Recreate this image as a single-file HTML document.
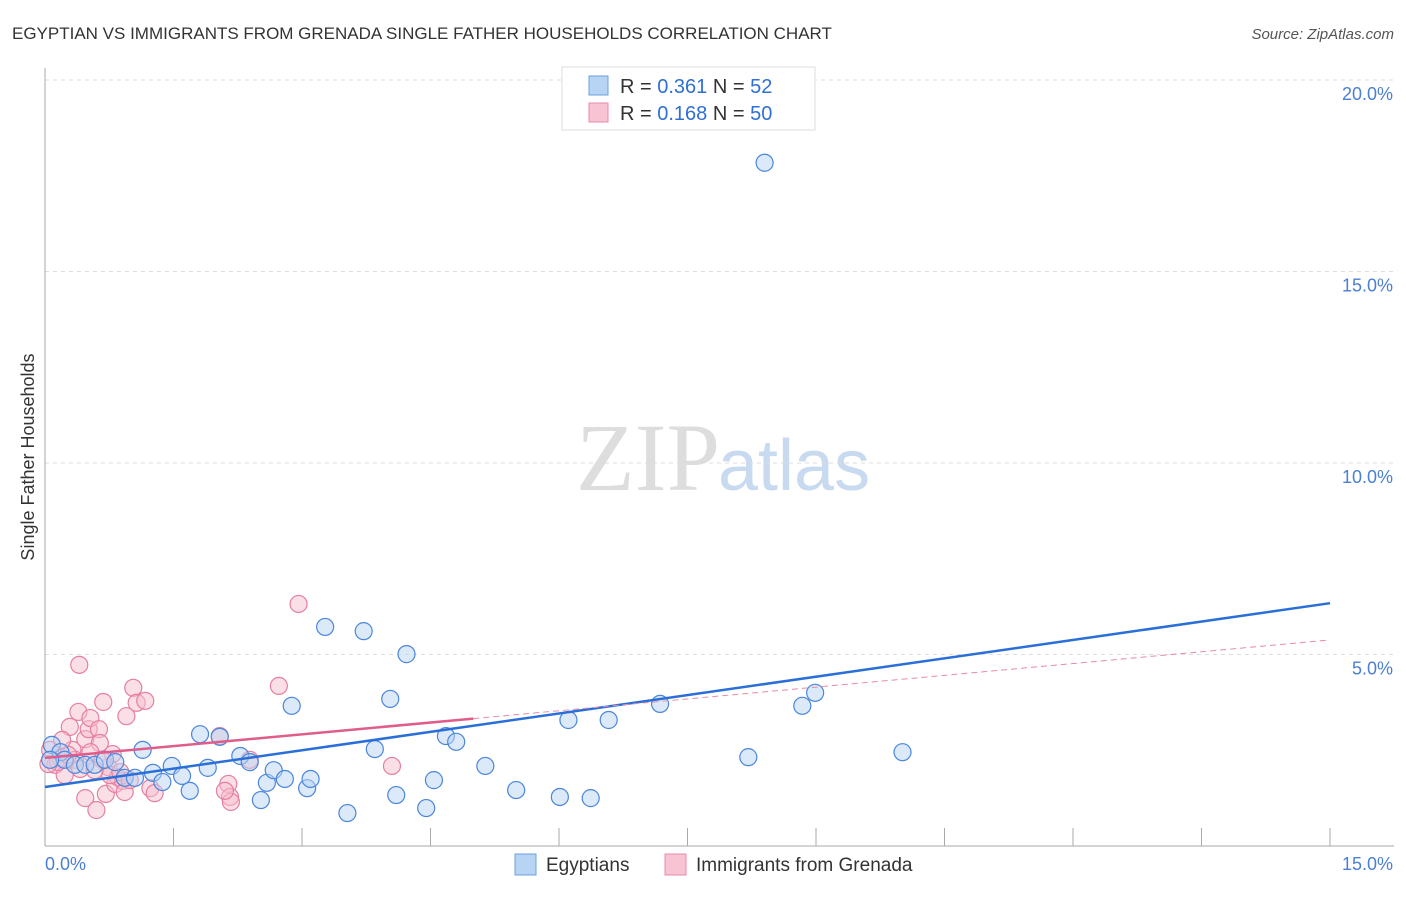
<!DOCTYPE html>
<html><head><meta charset="utf-8"><style>
body{margin:0;background:#fff;font-family:"Liberation Sans",sans-serif;}
</style></head><body>
<svg width="1406" height="892" xmlns="http://www.w3.org/2000/svg" font-family="Liberation Sans, sans-serif">
<text x="12" y="39" font-size="17" fill="#333">EGYPTIAN VS IMMIGRANTS FROM GRENADA SINGLE FATHER HOUSEHOLDS CORRELATION CHART</text>
<text x="1394" y="39" font-size="15" fill="#555" text-anchor="end" font-style="italic">Source: ZipAtlas.com</text>
<text x="720" y="490" font-size="96" fill="#ddd" text-anchor="end" font-family="Liberation Serif, serif">ZIP</text>
<text x="718" y="490" font-size="72" fill="#c8daf0">atlas</text>
<g id="grid"></g><g id="axes"></g><g id="marks"></g>
<text transform="translate(34,457) rotate(-90)" font-size="18" fill="#333" text-anchor="middle">Single Father Households</text>
<g>
<rect x="562" y="67" width="253" height="63" fill="#fff" stroke="#ddd"/>
<rect x="589" y="76" width="19" height="19" fill="#b8d4f4" stroke="#6a9fe0"/>
<rect x="589" y="103" width="19" height="19" fill="#f8c4d4" stroke="#e88aa8"/>
<text x="620" y="93" font-size="20" fill="#333">R = <tspan fill="#2f6fd6">0.361</tspan>   N = <tspan fill="#2f6fd6">52</tspan></text>
<text x="620" y="120" font-size="20" fill="#333">R = <tspan fill="#2f6fd6">0.168</tspan>   N = <tspan fill="#2f6fd6">50</tspan></text>
</g>
<g>
<rect x="515" y="854" width="21" height="21" fill="#b8d4f4" stroke="#6a9fe0"/>
<text x="546" y="871" font-size="19" fill="#333">Egyptians</text>
<rect x="665" y="854" width="21" height="21" fill="#f8c4d4" stroke="#e88aa8"/>
<text x="696" y="871" font-size="19" fill="#333">Immigrants from Grenada</text>
</g>
</svg>
<script>
const yTicks=[5,10,15,20];
const yTickLabels=["5.0%","10.0%","15.0%","20.0%"];
const xTickVals=[0,1.5,3,4.5,6,7.5,9,10.5,12,13.5,15];
const blueX=[0.08,0.18,0.23,0.35,0.47,0.58,0.70,0.82,0.93,1.05,1.14,1.26,1.37,1.48,1.60,1.69,1.81,1.90,2.04,2.28,2.39,2.52,2.59,2.67,2.80,2.88,3.06,3.10,3.27,3.53,3.72,3.85,4.03,4.10,4.22,4.45,4.54,4.68,4.80,5.14,5.50,6.01,6.11,6.37,6.58,7.18,8.21,8.40,8.84,8.99,10.01,0.06];
const blueY=[2.64,2.45,2.25,2.12,2.12,2.12,2.25,2.19,1.78,1.78,2.51,1.91,1.67,2.09,1.83,1.44,2.92,2.04,2.85,2.35,2.19,1.20,1.65,1.98,1.75,3.66,1.51,1.75,5.72,0.86,5.61,2.53,3.84,1.33,5.01,0.99,1.72,2.87,2.72,2.09,1.46,1.28,3.29,1.25,3.29,3.71,2.32,17.84,3.66,4.00,2.45,2.25];
const pinkX=[0.06,0.12,0.18,0.23,0.29,0.32,0.35,0.39,0.41,0.47,0.47,0.51,0.53,0.60,0.63,0.64,0.68,0.71,0.74,0.79,0.82,0.85,0.91,0.93,0.95,1.03,1.07,1.17,1.23,1.28,2.04,2.14,2.16,2.17,2.39,2.73,2.96,4.05,0.40,0.15,0.27,0.53,0.67,0.76,0.88,0.20,0.04,0.58,0.99,2.10];
const pinkY=[2.51,2.12,2.30,1.85,3.11,2.51,2.25,3.50,2.01,1.25,2.79,3.05,3.34,0.94,3.05,2.69,3.76,1.36,2.06,2.40,1.62,1.80,1.70,1.41,3.39,4.13,3.74,3.79,1.51,1.38,2.87,1.62,1.28,1.15,2.25,4.18,6.32,2.09,4.73,2.19,2.38,2.45,2.25,1.85,1.93,2.77,2.14,1.98,1.72,1.44];
const blueTrend=[1.54,6.34];
const pinkTrend=[2.30,5.38];
const NS='http://www.w3.org/2000/svg';
const X0=45,X1=1330,Y0=846,PY=38.3;
const sx=v=>X0+(v/15)*(X1-X0), sy=v=>Y0-v*PY;
function mk(t,a,p){const e=document.createElementNS(NS,t);for(const k in a)e.setAttribute(k,a[k]);p.appendChild(e);return e;}
const grid=document.getElementById('grid'),axes=document.getElementById('axes'),marks=document.getElementById('marks');
yTicks.forEach((v,i)=>{
 const l=mk('line',{x1:X0,x2:1394,y1:sy(v),y2:sy(v),stroke:'#ddd','stroke-dasharray':'4,4'},grid);
 
 
 const t=mk('text',{x:1393,y:sy(v)+20,'font-size':18,fill:'#4a7fd4','text-anchor':'end'},axes);
 t.textContent=yTickLabels[i];
 
 
});
const ax=mk('line',{x1:X0,x2:X0,y1:68,y2:Y0,stroke:'#aaa'},axes);


const bx=mk('line',{x1:X0,x2:1394,y1:Y0,y2:Y0,stroke:'#aaa'},axes);


xTickVals.forEach(v=>{const t=mk('line',{x1:sx(v),x2:sx(v),y1:Y0-18,y2:Y0,stroke:'#aaa'},axes);
 
 });
const xl=mk('text',{x:45,y:870,'font-size':18,fill:'#4a7fd4'},axes);xl.textContent='0.0%';


const xr=mk('text',{x:1393,y:870,'font-size':18,fill:'#4a7fd4','text-anchor':'end'},axes);xr.textContent='15.0%';


function pts(xs,ys,fill,stroke,name){xs.forEach((x,i)=>{const c=mk('circle',{cx:sx(x),cy:sy(ys[i]),r:8.5,fill:fill,'fill-opacity':0.5,stroke:stroke,'stroke-width':1.2},marks);
 
 });}
pts(pinkX,pinkY,'#f8bfd0','#e67fa0','grenada-point');
pts(blueX,blueY,'#b8d4f4','#4a86dc','egyptian-point');
const bt=mk('line',{x1:sx(0),y1:sy(blueTrend[0]),x2:sx(15),y2:sy(blueTrend[1]),stroke:'#2a6fd8','stroke-width':2.5},marks);


const pe=5.0,pm=pinkTrend[0]+(pinkTrend[1]-pinkTrend[0])*pe/15;
const ps=mk('line',{x1:sx(0),y1:sy(pinkTrend[0]),x2:sx(pe),y2:sy(pm),stroke:'#e05c8a','stroke-width':2.5},marks);


const pd=mk('line',{x1:sx(pe),y1:sy(pm),x2:sx(15),y2:sy(pinkTrend[1]),stroke:'#e88aa8','stroke-width':1,'stroke-dasharray':'6,4'},marks);


</script>
</body></html>
